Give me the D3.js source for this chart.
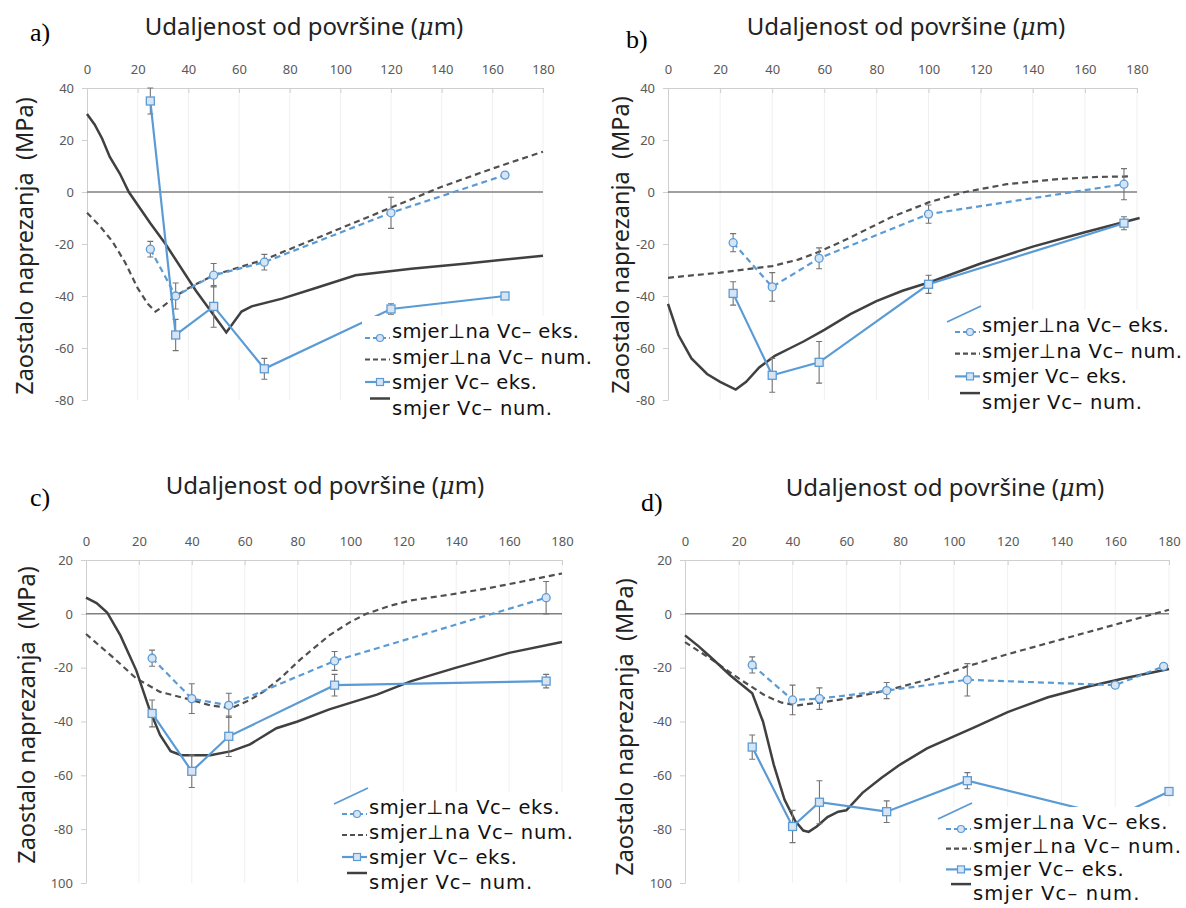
<!DOCTYPE html>
<html>
<head>
<meta charset="utf-8">
<script src="https://cdn.jsdelivr.net/npm/d3@7"></script>
<style>
  body { margin: 0; background: #fff; }
  text { font-family: "Noto Sans", sans-serif; }
</style>
</head>
<body>
<div id="graph"></div>
<script>
//Distance ticks on the top axis (same for all four charts).
let xTicks = [0, 20, 40, 60, 80, 100, 120, 140, 160, 180]

//Stress ticks and the labels printed next to them.
let yTicksAB = [40, 20, 0, -20, -40, -60, -80]
let yLabelsAB = ["40", "20", "0", "-20", "-40", "-60", "-80"]
let yTicksCD = [20, 0, -20, -40, -60, -80, -100]
let yLabelsCD = ["20", "0", "-20", "-40", "-60", "-80", "100"]

//Texts.
let panelLetters = ["a)", "b)", "c)", "d)"]
let legendLabels = ["smjer\u22a5na Vc\u2013 eks.", "smjer\u22a5na Vc\u2013 num.", "smjer Vc\u2013 eks.", "smjer Vc\u2013 num."]
let yTitle = "Zaostalo naprezanja  (MPa)"

//Chart a) - [distance, stress] pairs, error = +/- half length of the bar.
let aPerpEks = [[25, -22], [35, -40], [50, -32], [70, -27], [120, -8], [165, 6.5]]
let aPerpErr = [3, 5, 4.5, 3, 6, 1]
let aPerpNum = [[0, -8], [5, -13], [10, -19], [15, -27], [20, -37], [24, -43], [27, -46], [30, -44], [35, -40], [40, -37], [50, -32], [60, -29], [70, -26], [80, -22], [100, -14], [120, -6], [140, 2], [160, 9], [180, 15.5]]
let aVcEks = [[25, 35], [35, -55], [50, -44], [70, -68], [120, -45], [165, -40]]
let aVcErr = [5, 6, 8, 4, 2, 1]
let aVcNum = [[0, 30], [3, 26], [6, 20.5], [9, 13.5], [13, 7], [16.5, 0], [25, -12], [31, -20], [43, -38], [55, -54], [61, -46], [65, -44], [77, -41], [90, -37], [106, -32], [128, -29.5], [150, -27.5], [180, -24.5]]

//Chart b)
let bPerpEks = [[25, -19.5], [40, -36.5], [58, -25.5], [100, -8.5], [175, 3]]
let bPerpErr = [3.5, 5.5, 4, 3.5, 6]
let bPerpNum = [[0, -33], [20, -31], [40, -28.5], [50, -26], [58, -23], [70, -17.5], [85, -10], [100, -4], [114, 0], [130, 3], [150, 5], [165, 5.8], [178, 6]]
let bVcEks = [[25, -39], [40, -70.5], [58, -65.5], [100, -35.5], [175, -12]]
let bVcErr = [4.5, 6.5, 8, 3.5, 2.5]
let bVcNum = [[0, -43], [4, -55], [9, -64], [15, -70], [20, -73], [26, -76], [30, -73], [35, -67.5], [41, -63], [47, -60], [52, -57.5], [60, -53], [70, -47], [80, -42], [90, -38], [101, -34.5], [120, -27.5], [140, -21], [160, -15.5], [181, -10]]

//Chart c)
let cPerpEks = [[25, -16.5], [40, -31.5], [54, -34], [94, -17.5], [174, 6]]
let cPerpErr = [3, 5.5, 4.5, 3.5, 6]
let cPerpNum = [[0, -7.5], [10, -16], [19, -24], [28, -29], [38, -31.5], [47, -34], [55, -35], [62, -32], [67, -29], [74, -23.5], [81, -17], [92, -8], [100, -3], [106, 0], [115, 3], [123, 5], [140, 7.5], [152, 9.5], [165, 12], [180, 15]]
let cVcEks = [[25, -37], [40, -58.5], [54, -45.5], [94, -26.5], [174, -25]]
let cVcErr = [5, 6, 7.5, 4, 2.5]
let cVcNum = [[0, 6], [4, 4], [8, 0.5], [13, -8], [19, -21], [24, -35.5], [28, -45], [32, -51], [36, -52.5], [47, -52.5], [55, -51], [62, -48.5], [72, -42.5], [80, -40], [92, -35.5], [110, -30], [123, -25], [140, -20], [160, -14.5], [180, -10.5]]

//Chart d)
let dPerpEks = [[25, -19], [40, -32], [50, -31.5], [75, -28.5], [105, -24.5], [160, -26.5], [178, -19.5]]
let dPerpErr = [3, 5.5, 4, 3, 6, 1, 1]
let dPerpNum = [[0, -10.5], [10, -17], [20, -24], [30, -30.5], [36, -33], [42, -34], [50, -33], [60, -31.5], [75, -28.5], [90, -24.5], [105, -19.5], [120, -15], [140, -9.5], [160, -4], [180, 1.5]]
let dVcEks = [[25, -49.5], [40, -79], [50, -70], [75, -73.5], [105, -62], [160, -75.5], [180, -66]]
let dVcErr = [4.5, 6, 8, 4, 3, 0, 0]
let dVcNum = [[0, -8], [5, -12], [10, -16.5], [17, -23], [25, -29.5], [29, -40], [33, -56], [37, -69], [41, -77], [44, -80.5], [46, -81], [49, -79], [53, -75.5], [57, -73.5], [60, -73], [66, -66.5], [73, -61], [80, -56], [90, -50], [100, -45.5], [108, -42], [120, -36.5], [135, -31], [150, -27], [163, -24], [180, -20.5]]

//Colours.
let blue = "#5b9bd5"
let markerFill = "#d6e4f4"
let dark = "#404040"
let errColor = "#737373"

//Relative widths of the four legend rows (longest row = 1).
let legendRowScale = [0.935, 1, 0.725, 0.8]

//Where each chart sits on the page.
let panels = [
  { x0: 87, x1: 543, top: 88, bottom: 400, yTicks: yTicksAB, yLabels: yLabelsAB,
    letterX: 30, letterY: 41, titleX: 304, titleY: 35, yTitleX: 33, yTitleY: 246,
    legX: 392, legY: 331, legDy: 25.5, legW: 200, artifact: false,
    perpEks: aPerpEks, perpErr: aPerpErr, perpNum: aPerpNum, vcEks: aVcEks, vcErr: aVcErr, vcNum: aVcNum },
  { x0: 668, x1: 1137, top: 88, bottom: 400, yTicks: yTicksAB, yLabels: yLabelsAB,
    letterX: 626, letterY: 48, titleX: 906, titleY: 35, yTitleX: 629, yTitleY: 245,
    legX: 982, legY: 325, legDy: 25.7, legW: 200, artifact: true,
    perpEks: bPerpEks, perpErr: bPerpErr, perpNum: bPerpNum, vcEks: bVcEks, vcErr: bVcErr, vcNum: bVcNum },
  { x0: 86, x1: 562, top: 560, bottom: 883, yTicks: yTicksCD, yLabels: yLabelsCD,
    letterX: 30, letterY: 506, titleX: 325, titleY: 494, yTitleX: 35, yTitleY: 715,
    legX: 369, legY: 807, legDy: 25, legW: 204, artifact: true,
    perpEks: cPerpEks, perpErr: cPerpErr, perpNum: cPerpNum, vcEks: cVcEks, vcErr: cVcErr, vcNum: cVcNum },
  { x0: 685, x1: 1169, top: 560, bottom: 883, yTicks: yTicksCD, yLabels: yLabelsCD,
    letterX: 641, letterY: 511, titleX: 945, titleY: 496, yTitleX: 633, yTitleY: 727,
    legX: 973, legY: 822, legDy: 23.7, legW: 208, artifact: true,
    perpEks: dPerpEks, perpErr: dPerpErr, perpNum: dPerpNum, vcEks: dVcEks, vcErr: dVcErr, vcNum: dVcNum }
]

const svg = d3.select("#graph")
              .append("svg")
              .attr("width", 1186)
              .attr("height", 908)

svg.append("rect").attr("width", 1186).attr("height", 908).attr("fill", "#fff")

panels.forEach((p, i) => drawPanel(p, i))

function drawPanel(p, i) {
  let g = svg.append("g")

  let x = d3.scaleLinear().domain([0, 180]).range([p.x0, p.x1])
  let y = d3.scaleLinear().domain([d3.max(p.yTicks), d3.min(p.yTicks)]).range([p.top, p.bottom])

  //Faint vertical grid lines.
  g.selectAll(".grid")
   .data(xTicks.slice(1))
   .enter()
   .append("line")
   .attr("x1", d => x(d)).attr("x2", d => x(d))
   .attr("y1", p.top).attr("y2", p.bottom)
   .attr("stroke", "#f0f0f0")

  //Top distance axis, ticks point into the plot.
  let topAxis = d3.axisTop(x).tickValues(xTicks).tickSizeInner(-5).tickSizeOuter(0).tickPadding(14)
  g.append("g")
   .attr("transform", "translate(0," + p.top + ")")
   .call(topAxis)
   .call(ax => ax.select(".domain").attr("stroke", "#cfcfcf"))
   .call(ax => ax.selectAll(".tick line").attr("stroke", "#cfcfcf"))
   .call(ax => ax.selectAll("text").attr("fill", "#595959").style("font-size", "13px"))

  //Left stress axis.
  let leftAxis = d3.axisLeft(y).tickValues(p.yTicks).tickSizeInner(5).tickSizeOuter(0).tickPadding(8)
                   .tickFormat((d, k) => p.yLabels[k])
  g.append("g")
   .attr("transform", "translate(" + p.x0 + ",0)")
   .call(leftAxis)
   .call(ax => ax.select(".domain").attr("stroke", "#cfcfcf"))
   .call(ax => ax.selectAll(".tick line").attr("stroke", "#cfcfcf"))
   .call(ax => ax.selectAll("text").attr("fill", "#595959").style("font-size", "13px"))

  //Zero line.
  g.append("line")
   .attr("x1", p.x0).attr("x2", p.x1)
   .attr("y1", y(0)).attr("y2", y(0))
   .attr("stroke", "#808080").attr("stroke-width", 1.5)

  let line = d3.line().x(d => x(d[0])).y(d => y(d[1]))

  //Numerical curves.
  g.append("path").attr("d", line(p.perpNum)).attr("fill", "none")
   .attr("stroke", "#505050").attr("stroke-width", 2.2).attr("stroke-dasharray", "6,4")
  g.append("path").attr("d", line(p.vcNum)).attr("fill", "none")
   .attr("stroke", dark).attr("stroke-width", 2.5)

  //Experimental series with error bars.
  drawEks(g, x, y, p.perpEks, p.perpErr, true, line)
  drawEks(g, x, y, p.vcEks, p.vcErr, false, line)

  //Panel letter, axis titles.
  svg.append("text")
     .attr("x", p.letterX).attr("y", p.letterY)
     .style("font-family", "'Liberation Serif', serif").style("font-size", "26px")
     .text(panelLetters[i])

  let t = svg.append("text")
             .attr("x", p.titleX).attr("y", p.titleY)
             .attr("text-anchor", "middle")
             .style("font-size", "24px").attr("fill", "#222")
  t.append("tspan").text("Udaljenost od površine (")
  t.append("tspan").style("font-family", "'DejaVu Serif', serif").style("font-style", "italic").text("\u03bc")
  t.append("tspan").text("m)")

  svg.append("text")
     .attr("transform", "translate(" + p.yTitleX + "," + p.yTitleY + ") rotate(-90)")
     .attr("text-anchor", "middle")
     .style("font-size", "23.5px").attr("fill", "#222")
     .style("white-space", "pre")
     .text(yTitle)

  drawLegend(p)
}

function drawEks(g, x, y, data, err, dashed, line) {
  g.selectAll(null)
   .data(data)
   .enter()
   .append("path")
   .attr("d", (d, k) => {
     let cx = x(d[0]), y1 = y(d[1] + err[k]), y2 = y(d[1] - err[k])
     return "M" + cx + "," + y1 + "V" + y2 + "M" + (cx - 3) + "," + y1 + "h6M" + (cx - 3) + "," + y2 + "h6"
   })
   .attr("stroke", errColor).attr("stroke-width", 1.1).attr("fill", "none")

  g.append("path").attr("d", line(data)).attr("fill", "none")
   .attr("stroke", blue).attr("stroke-width", 2.2)
   .attr("stroke-dasharray", dashed ? "6,4" : null)

  if (dashed) {
    g.selectAll(null).data(data).enter().append("circle")
     .attr("cx", d => x(d[0])).attr("cy", d => y(d[1])).attr("r", 4)
     .attr("fill", markerFill).attr("stroke", blue).attr("stroke-width", 1.3)
  } else {
    g.selectAll(null).data(data).enter().append("rect")
     .attr("x", d => x(d[0]) - 4).attr("y", d => y(d[1]) - 4).attr("width", 8).attr("height", 8)
     .attr("fill", markerFill).attr("stroke", blue).attr("stroke-width", 1.3)
  }
}

function drawLegend(p) {
  let lg = svg.append("g")
  let lx = p.legX, ly = p.legY, dy = p.legDy

  lg.append("rect")
    .attr("x", lx - 30).attr("y", ly - 15)
    .attr("width", p.legW + 36).attr("height", 3 * dy + 32)
    .attr("fill", "#fff")

  if (p.artifact) {
    lg.append("line")
      .attr("x1", lx - 35).attr("y1", ly - 3).attr("x2", lx - 1).attr("y2", ly - 19)
      .attr("stroke", blue).attr("stroke-width", 1.8)
  }

  //Swatches.
  lg.append("line").attr("x1", lx - 27).attr("x2", lx - 2).attr("y1", ly + 7).attr("y2", ly + 7)
    .attr("stroke", blue).attr("stroke-width", 2.2).attr("stroke-dasharray", "5,3")
  lg.append("circle").attr("cx", lx - 12).attr("cy", ly + 7).attr("r", 3.5)
    .attr("fill", markerFill).attr("stroke", blue).attr("stroke-width", 1.2)
  lg.append("line").attr("x1", lx - 27).attr("x2", lx - 2).attr("y1", ly + dy + 3).attr("y2", ly + dy + 3)
    .attr("stroke", "#505050").attr("stroke-width", 2.2).attr("stroke-dasharray", "5,3")
  lg.append("line").attr("x1", lx - 27).attr("x2", lx - 2).attr("y1", ly + 2 * dy).attr("y2", ly + 2 * dy)
    .attr("stroke", blue).attr("stroke-width", 2.2)
  lg.append("rect").attr("x", lx - 15.5).attr("y", ly + 2 * dy - 3.5).attr("width", 7).attr("height", 7)
    .attr("fill", markerFill).attr("stroke", blue).attr("stroke-width", 1.2)
  lg.append("line").attr("x1", lx - 22).attr("x2", lx - 2).attr("y1", ly + 3 * dy - 9).attr("y2", ly + 3 * dy - 9)
    .attr("stroke", dark).attr("stroke-width", 2.5)

  lg.selectAll("text")
    .data(legendLabels)
    .enter()
    .append("text")
    .attr("x", lx)
    .attr("y", (d, k) => ly + k * dy)
    .attr("dy", "0.36em")
    .attr("textLength", (d, k) => p.legW * legendRowScale[k])
    .style("font-family", "'DejaVu Sans', sans-serif")
    .style("font-size", "19.5px").attr("fill", "#111")
    .text(d => d)
}
</script>
</body>
</html>
